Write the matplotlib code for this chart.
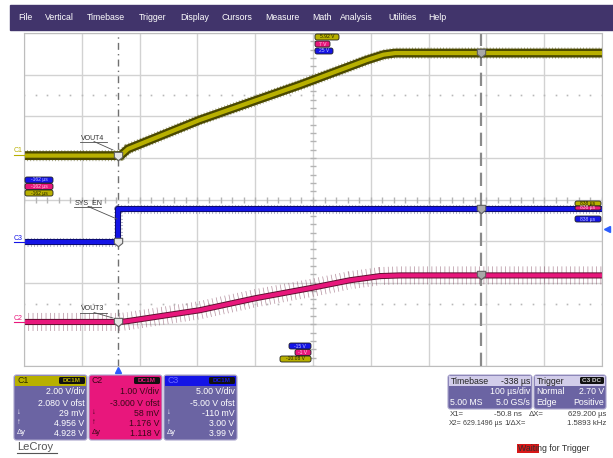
import numpy as np
import matplotlib
matplotlib.use('Agg')
import matplotlib.pyplot as plt
from matplotlib.patches import Rectangle, FancyBboxPatch

plt.rcParams['font.family'] = ['Liberation Sans', 'DejaVu Sans']

W, H = 613, 458

# timebase: left edge of screen and time per division, in us
t_left, t_div = -162.0, 100.0
x1_us = -0.0508
x2_us = 629.1496

# vertical settings per channel: V/div, offset
c1_vdiv, c1_ofst = 2.00, 2.080
c2_vdiv, c2_ofst = 1.00, -3.000
c3_vdiv, c3_ofst = 5.00, -5.00

# C1 = VOUT4
c1_t = [-162, 5, 18, 142, 315, 431, 460, 480, 838]
c1_v = [0.029, 0.029, 0.35, 1.74, 3.42, 4.62, 4.88, 4.956, 4.956]
# C2 = VOUT3
c2_t = [-162, 5, 18, 142, 239, 333, 402, 454, 488, 838]
c2_v = [0.058, 0.058, 0.08, 0.34, 0.63, 0.87, 1.06, 1.16, 1.176, 1.176]
# C3 = SYS_EN
c3_t = [-162, 0, 0, 838]
c3_v = [-0.110, -0.110, 3.88, 3.88]

menu_items = ['File', 'Vertical', 'Timebase', 'Trigger', 'Display', 'Cursors',
              'Measure', 'Math', 'Analysis', 'Utilities', 'Help']
menu_x = [18, 45, 87, 139, 180, 221, 265, 312, 340, 388, 428]

c1_rows = ['2.00 V/div', '2.080 V ofst', '29 mV', '4.956 V', '4.928 V']
c2_rows = ['1.00 V/div', '-3.000 V ofst', '58 mV', '1.176 V', '1.118 V']
c3_rows = ['5.00 V/div', '-5.00 V ofst', '-110 mV', '3.00 V', '3.99 V']

YEL, YEL_D = '#b8b000', '#4a4800'
PNK, PNK_D = '#e8177c', '#5e1030'
BLU, BLU_D = '#1414e6', '#0a0a50'
PURP = '#6b64a3'
MENU = '#41346b'

fig = plt.figure(figsize=(W / 100, H / 100), dpi=100)

# ---- scope screen ----
ax = fig.add_axes([24 / W, (H - 366) / H, 578 / W, 333 / H], zorder=1)
ax.set_xlim(t_left, t_left + 10 * t_div)
ax.set_ylim(-4, 4)
ax.set_xticks(t_left + t_div * np.arange(11))
ax.set_yticks(np.arange(-4, 5))
ax.grid(color='#d2d2d2', lw=1)
ax.tick_params(length=0, labelbottom=False, labelleft=False)
for s in ax.spines.values():
    s.set_color('#bdbdbd')

t_mid = t_left + 5 * t_div
ax.plot(np.full(41, t_mid), np.linspace(-4, 4, 41), ls='none', marker='_', ms=4, color='#b4b4b4')
ax.plot(t_left + np.arange(0, 1001, 20), np.zeros(51), ls='none', marker='|', ms=4, color='#b4b4b4')
for yy in (2.5, -2.5):
    ax.plot(t_left + np.arange(0, 1001, 20), np.full(51, yy), ls='none', marker='s', ms=1.2,
            color='#b8b8b8', mew=0)

ax.axvline(x1_us, color='#707070', lw=1, ls=(0, (5, 3, 1, 3)))
ax.axvline(x2_us, color='#8a8a8a', lw=1.6, ls=(0, (6, 3)))


def to_div(v, vdiv, ofst):
    return (np.asarray(v, dtype=float) + ofst) / vdiv


def trace(t, v, vdiv, ofst, col, dark, hair_lw, hair_dash, hair_alpha, edge_lw, core_lw):
    y = to_div(v, vdiv, ofst)
    ax.plot(t, y, color=dark, lw=hair_lw, dashes=hair_dash, alpha=hair_alpha)
    ax.plot(t, y, color=dark, lw=edge_lw, solid_joinstyle='round')
    ax.plot(t, y, color=col, lw=core_lw, solid_joinstyle='round')
    return y


trace(c3_t, c3_v, c3_vdiv, c3_ofst, BLU, BLU_D, 6.5, (0.06, 0.3), 0.55, 4.4, 3.2)
trace(c2_t, c2_v, c2_vdiv, c2_ofst, PNK, PNK_D, 13, (0.04, 0.2), 0.45, 4.4, 3.0)
trace(c1_t, c1_v, c1_vdiv, c1_ofst, YEL, YEL_D, 8, (0.08, 0.2), 0.5, 6.4, 3.0)

# cursor crossing markers
shield = [(-1, 1), (1, 1), (1, -0.2), (0, -1), (-1, -0.2), (-1, 1)]
for tx, fc in ((x1_us, '#e6e6e6'), (x2_us, '#a8a8a8')):
    for t, v, vd, of in ((c1_t, c1_v, c1_vdiv, c1_ofst),
                         (c2_t, c2_v, c2_vdiv, c2_ofst),
                         (c3_t, c3_v, c3_vdiv, c3_ofst)):
        yy = (np.interp(tx, t, v) + of) / vd
        ax.plot([tx], [yy], ls='none', marker=shield, ms=6, mfc=fc, mec='#606060', mew=0.8, zorder=5)

# ---- surrounding UI, in pixel coordinates ----
ui = fig.add_axes([0, 0, 1, 1], zorder=3)
ui.set_xlim(0, W)
ui.set_ylim(H, 0)
ui.axis('off')
ui.patch.set_alpha(0)

ui.add_patch(Rectangle((10, 5), W - 10, 25, color=MENU))
for name, x in zip(menu_items, menu_x):
    ui.text(x, 17.5, name, color='white', fontsize=6.3, va='center')


def badge(x0, y0, w, txt, fc, tc, h=6):
    ui.add_patch(FancyBboxPatch((x0, y0), w, h, boxstyle='round,pad=0,rounding_size=2',
                                fc=fc, ec='#202020', lw=0.6))
    ui.text(x0 + w / 2, y0 + h / 2, txt, color=tc, fontsize=3.6, ha='center', va='center')


# range badges
badge(25, 177, 28, '-162 µs', BLU, '#c0c0ff')
badge(25, 183.5, 28, '-162 µs', PNK, '#ffd0e8')
badge(25, 190, 28, '-162 µs', YEL, '#202000')
badge(315, 34, 24, '5.92 V', YEL, '#202000')
badge(315, 41, 15, '7 V', PNK, '#ffd0e8')
badge(315, 48, 18, '25 V', BLU, '#c0c0ff')
badge(289, 343, 22, '-15 V', BLU, '#c0c0ff')
badge(295, 349.5, 16, '-1 V', PNK, '#ffd0e8')
badge(280, 356, 31, '-10.08 V', YEL, '#202000')
badge(575, 201, 26, '838 µs', YEL, '#202000', h=5)
badge(575, 206, 26, '838 µs', PNK, '#ffd0e8', h=4)
badge(575, 216, 26, '838 µs', BLU, '#c0c0ff')

# trigger position / level markers
ui.plot([118], [370], marker='^', ms=4.5, color='#2a5cff', ls='none')
ui.plot([607], [229], marker='<', ms=4.5, color='#2a5cff', ls='none')

# channel tags at the left edge
for lbl, y, col in (('C1', 155, YEL), ('C3', 242, BLU), ('C2', 322, PNK)):
    ui.text(14, y - 0.5, lbl, color=col, fontsize=5, va='bottom', ha='left', rotation=0)
    ui.plot([14, 24], [y, y], color=col, lw=0.8)

# probe labels with leader lines
for lbl, tx, ty, tip in (('VOUT4', 81, 138, (113, 150)),
                         ('SYS_EN', 75, 203, (117, 219)),
                         ('VOUT3', 81, 309, (113, 318))):
    ui.text(tx, ty, lbl, color='#303030', fontsize=5, va='center')
    ui.plot([tx - 1, tx + 26], [ty + 3.5, ty + 3.5], color='#505050', lw=0.6)
    ui.plot([tx + 13, tip[0]], [ty + 3.5, tip[1]], color='#505050', lw=0.6)


def chan_box(x0, name, head, body, txt, name_col, rows):
    w, top, h = 73, 375, 65
    ui.add_patch(FancyBboxPatch((x0, top), w, h, boxstyle='round,pad=0,rounding_size=2.5',
                                fc=body, ec='#a9a4cc', lw=0.8))
    ui.add_patch(Rectangle((x0 + 0.6, top + 0.6), w - 1.2, 10, fc=head, ec='none'))
    ui.text(x0 + 3, top + 5.8, name, color=name_col, fontsize=6.3, va='center')
    ui.add_patch(FancyBboxPatch((x0 + w - 28, top + 2), 26, 7, boxstyle='round,pad=0,rounding_size=1.5',
                                fc='#111111', ec='none'))
    ui.text(x0 + w - 15, top + 5.6, 'DC1M', color=head, fontsize=4.6, ha='center', va='center',
            weight='bold')
    ys = [392, 403, 413, 423, 433]
    for r, y in zip(rows, ys):
        ui.text(x0 + w - 2.5, y, r, color=txt, fontsize=6.3, ha='right', va='center')
    for sym, y in zip(['↓', '↑', 'Δy'], ys[2:]):
        ui.text(x0 + 3, y, sym, color=txt, fontsize=5.5, va='center')


chan_box(14, 'C1', YEL, PURP, 'white', '#2a2800', c1_rows)
chan_box(89, 'C2', PNK, PNK, '#3a0818', '#3a0818', c2_rows)
chan_box(164, 'C3', BLU, PURP, 'white', '#6a6aff', c3_rows)

ui.text(17, 447, 'LeCroy', color='#555555', fontsize=8, va='center')
ui.plot([17, 57], [452.5, 452.5], color='#555555', lw=0.8)

# timebase box
ui.add_patch(FancyBboxPatch((448, 375), 84, 34, boxstyle='round,pad=0,rounding_size=2.5',
                            fc=PURP, ec='#a9a4cc', lw=0.8))
ui.add_patch(Rectangle((448.6, 375.6), 82.8, 10, fc='#d2cdea', ec='none'))
ui.text(451, 381, 'Timebase', color='#202020', fontsize=6.3, va='center')
ui.text(530, 381, '-338 µs', color='#202020', fontsize=6.3, va='center', ha='right')
ui.text(530, 392, '100 µs/div', color='white', fontsize=6.3, va='center', ha='right')
ui.text(450, 402.5, '5.00 MS', color='white', fontsize=6.3, va='center')
ui.text(530, 402.5, '5.0 GS/s', color='white', fontsize=6.3, va='center', ha='right')

# trigger box
ui.add_patch(FancyBboxPatch((534, 375), 72, 34, boxstyle='round,pad=0,rounding_size=2.5',
                            fc=PURP, ec='#a9a4cc', lw=0.8))
ui.add_patch(Rectangle((534.6, 375.6), 70.8, 10, fc='#d2cdea', ec='none'))
ui.text(537, 381, 'Trigger', color='#202020', fontsize=6.3, va='center')
ui.add_patch(FancyBboxPatch((580, 377), 24, 7, boxstyle='round,pad=0,rounding_size=1.5',
                            fc='#111111', ec='none'))
ui.text(592, 380.6, 'C3 DC', color='#d0d0d0', fontsize=4.6, ha='center', va='center', weight='bold')
ui.text(536, 392, 'Normal', color='white', fontsize=6.3, va='center')
ui.text(604, 392, '2.70 V', color='white', fontsize=6.3, va='center', ha='right')
ui.text(536, 402.5, 'Edge', color='white', fontsize=6.3, va='center')
ui.text(604, 402.5, 'Positive', color='white', fontsize=6.3, va='center', ha='right')

# cursor readouts
rd = '#404040'
fs_rd = 5.6
ui.text(450, 414, 'X1=', color=rd, fontsize=fs_rd, va='center')
ui.text(522, 414, '-50.8 ns', color=rd, fontsize=fs_rd, va='center', ha='right')
ui.text(529, 414, 'ΔX=', color=rd, fontsize=fs_rd, va='center')
ui.text(606, 414, '629.200 µs', color=rd, fontsize=fs_rd, va='center', ha='right')
ui.text(449, 423.5, 'X2=', color=rd, fontsize=5.0, va='center')
ui.text(502, 423.5, '629.1496 µs', color=rd, fontsize=5.0, va='center', ha='right')
ui.text(504, 423.5, '1/ΔX=', color=rd, fontsize=fs_rd, va='center')
ui.text(606, 423.5, '1.5893 kHz', color=rd, fontsize=fs_rd, va='center', ha='right')

ui.add_patch(Rectangle((517, 444), 22, 9, fc='#d81818', ec='none'))
ui.text(518, 448.5, 'Waiting for Trigger', color='#303030', fontsize=6.3, va='center')

fig.savefig('out.png', dpi=100)
